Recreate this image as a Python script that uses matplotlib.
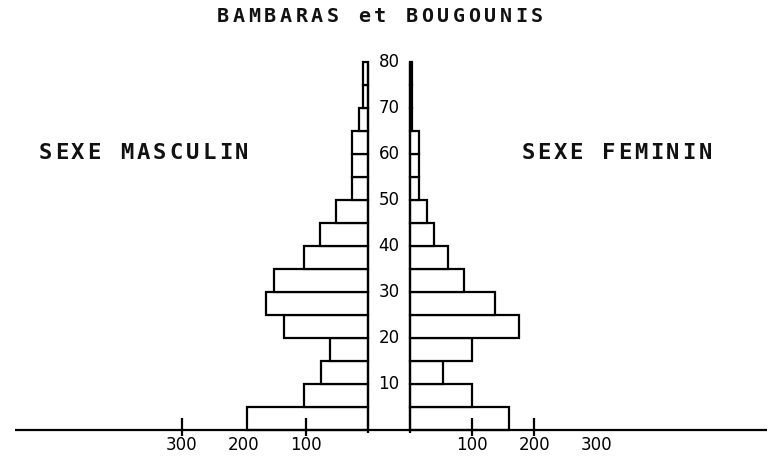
import numpy as np
import matplotlib.pyplot as plt

# age groups (lower bound, 5-year bands) and counts
ages = [0, 5, 10, 15, 20, 25, 30, 35, 40, 45, 50, 55, 60, 65, 70, 75]
male = [195, 103, 76, 61, 135, 165, 152, 103, 77, 52, 26, 26, 26, 15, 8, 8]
female = [160, 100, 53, 100, 176, 137, 87, 61, 39, 27, 15, 15, 15, 3, 3, 3]

age_labels = [10, 20, 30, 40, 50, 60, 70, 80]
x_ticks_left = [100, 200, 300]
x_ticks_right = [100, 200, 300]

title = 'BAMBARAS et BOUGOUNIS'
left_label = 'SEXE MASCULIN'
right_label = 'SEXE FEMININ'

W, H = 781, 466
GAP = 34          # half width of the central age column, in count units
PX = 0.62         # pixels per count unit
BASE = 430        # pixel row of age 0
PY = 4.6          # pixels per year


def spaced_text(fig, x0, pitch, y, s, size):
    # typewriter-like letter spacing: place each char on a fixed pitch
    for i, ch in enumerate(s):
        if ch == ' ':
            continue
        fig.text((x0 + i * pitch) / W, 1 - y / H, ch, ha='center',
                 va='center', fontsize=size, fontweight='bold',
                 family='DejaVu Sans Mono', color='#111111')


fig = plt.figure(figsize=(W / 100, H / 100), dpi=100)
ax = fig.add_axes([0, 0, 1, 1])
ax.set_xlim(-389 / PX, (W - 389) / PX)
ax.set_ylim((BASE - H) / PY, BASE / PY)
ax.axis('off')

lw = 1.6
ax.barh(ages, [-m for m in male], left=-GAP, height=5, align='edge',
        color='white', edgecolor='black', linewidth=lw)
ax.barh(ages, female, left=GAP, height=5, align='edge',
        color='white', edgecolor='black', linewidth=lw)

# central column
ax.vlines([-GAP, GAP], -0.6, 80, color='black', linewidth=lw)

# horizontal axis with tick marks
ax.hlines(0, (15 - 389) / PX, (767 - 389) / PX, color='black', linewidth=lw)
tick_x = [-GAP - v for v in x_ticks_left if v != 200] + \
         [GAP + v for v in x_ticks_right if v != 300]
ax.vlines(tick_x, -1.4, 2.6, color='black', linewidth=lw)

for v in x_ticks_left:
    ax.text(-GAP - v, -3.3, str(v), ha='center', va='center', fontsize=12)
for v in x_ticks_right:
    ax.text(GAP + v, -3.3, str(v), ha='center', va='center', fontsize=12)

for a in age_labels:
    ax.text(0, a, str(a), ha='center', va='center', fontsize=12)

spaced_text(fig, 223, 15.7, 17, title, 14.5)
spaced_text(fig, 45, 16.4, 153, left_label, 16)
spaced_text(fig, 528, 16.1, 153, right_label, 16)

fig.savefig('out.png', dpi=100)
